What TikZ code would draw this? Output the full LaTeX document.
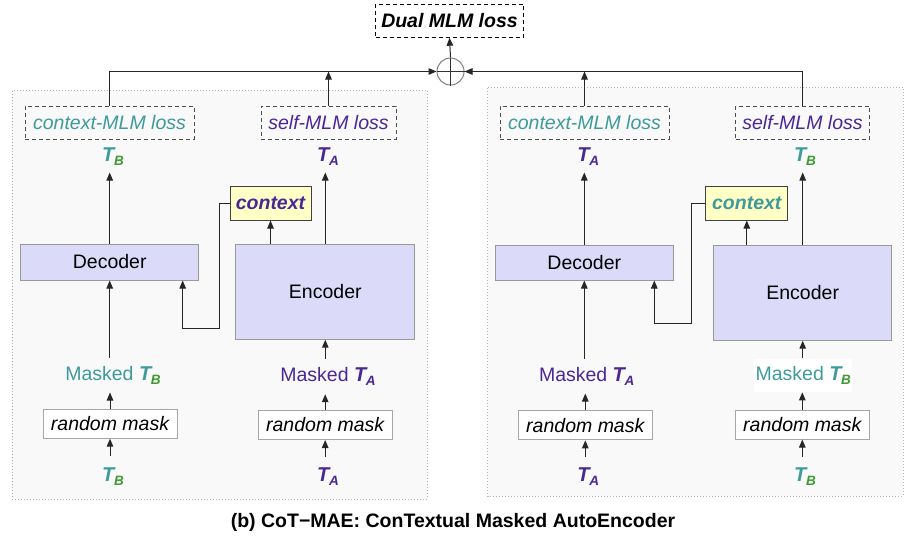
\documentclass[tikz,border=0pt]{standalone}
\usepackage{fontspec}
\setmainfont{Liberation Sans}
\usetikzlibrary{arrows.meta,calc,positioning}
\definecolor{tealc}{HTML}{3E9A9B}
\definecolor{purp}{HTML}{4B2796}
\definecolor{grn}{HTML}{3C9A2E}
\definecolor{lavender}{HTML}{DCDAF9}
\definecolor{ctxyellow}{HTML}{FFFFC6}
\definecolor{panelgray}{HTML}{F9F9F9}
\newcommand{\tokA}{{\fontsize{20}{22}\selectfont\bfseries\itshape\textcolor{purp}{T\kern-0.3pt\raisebox{-4pt}{\fontsize{13.5}{14}\selectfont A}}}}
\newcommand{\tokB}{{\fontsize{20}{22}\selectfont\bfseries\itshape\textcolor{tealc}{T}\kern-0.3pt\raisebox{-4pt}{\fontsize{13.5}{14}\selectfont\textcolor{grn}{B}}}}
\begin{document}
\begin{tikzpicture}
[x=1pt,y=-1pt,line width=1pt,>={Triangle[length=8pt,width=6.5pt]},
every node/.style = {font=\fontsize{19.5}{23}\selectfont, inner sep=0pt},
panel/.style = {draw=gray!60, dotted, fill=panelgray},
lossbox/.style = {draw=black!70, dash pattern=on 4pt off 3pt, minimum height=33},
block/.style = {draw=gray!80, fill=lavender},
ctxbox/.style = {draw=black!75, fill=ctxyellow, minimum width=81, minimum height=34},
maskbox/.style = {draw=gray!70, fill=white, minimum width=134, minimum height=29},
tok/.style = {minimum height=30, minimum width=20},
masked/.style = {minimum height=34},
wire/.style = {draw=black!85},]
\useasboundingbox (0,0) rectangle (915,542);
% panels
\draw[panel] (12,90.7) rectangle (427,499);
\draw[panel] (487.7,87.7) rectangle (903.3,496);
% top
\node (dual) at (449.5,20.7)[draw, dash pattern=on 4pt off 3pt, minimum width=148, minimum height=33] {\bfseries\itshape Dual MLM loss};
\node (oplus) at (450.5,71.5)[circle, draw=gray, minimum size=27] {};
\draw[black!80] (oplus.north) -- (oplus.south);
\draw[black!80] (oplus.west) -- (oplus.east);
\draw[wire,->] (oplus.north) -- (dual.south);
% left branch
\node (lossL1) at (109.5,122.5)[lossbox,minimum width=169] {\itshape\textcolor{tealc}{context-MLM loss}};
\node (lossL2) at (328.5,122.5)[lossbox,minimum width=135] {\itshape\textcolor{purp}{self-MLM loss}};
\node (tL1) at (113,157)[tok] {\tokB};
\node (tL2) at (328,157)[tok] {\tokA};
\node (ctxL) at (270.5,203)[ctxbox] {\bfseries\itshape\textcolor{purp}{context}};
\node (decL) at (109.7,262)[block,minimum width=178,minimum height=36] {Decoder};
\node (encL) at (325.3,291.7)[block,minimum width=179,minimum height=95] {Encoder};
\node (mkL1) at (113,375)[masked] {\textcolor{tealc}{Masked} \tokB};
\node (mkL2) at (328,376.7)[masked] {\textcolor{purp}{Masked} \tokA};
\node (rmL1) at (110,423.7)[maskbox] {\itshape random mask};
\node (rmL2) at (325.2,425)[maskbox] {\itshape random mask};
\node (inL1) at (113,476.7)[tok,minimum height=40] {\tokB};
\node (inL2) at (328,477)[tok,minimum height=40] {\tokA};
\coordinate (cL1) at (219,328);
\coordinate (cL2) at (182.7,328);
\draw[wire,->] (decL.north) -- (decL.north |- tL1.south);
\draw[wire,->] (encL.north) -- (encL.north |- tL2.south);
\draw[wire,->] (encL.north -| ctxL.south) -- (ctxL.south);
\draw[wire,->] (ctxL.west) -| (cL1) -- (cL2) -- (cL2 |- decL.south);
\draw[wire,->] (decL.south |- mkL1.north) -- (decL.south);
\draw[wire,->] (encL.south |- mkL2.north) -- (encL.south);
\draw[wire,->] (rmL1.north) -- (rmL1.north |- mkL1.south);
\draw[wire,->] (rmL2.north) -- (rmL2.north |- mkL2.south);
\draw[wire,->] (rmL1.south |- inL1.north) -- (rmL1.south);
\draw[wire,->] (rmL2.south |- inL2.north) -- (rmL2.south);
\draw[wire,->] (lossL1.north) |- (oplus.west);
\draw[wire,->] (lossL2.north) -- (lossL2.north |- oplus.west);
% right branch
\node (lossR1) at (584.5,122.5)[lossbox,minimum width=169] {\itshape\textcolor{tealc}{context-MLM loss}};
\node (lossR2) at (802.5,122.5)[lossbox,minimum width=134] {\itshape\textcolor{purp}{self-MLM loss}};
\node (tR1) at (588.3,157)[tok] {\tokA};
\node (tR2) at (805,157)[tok] {\tokB};
\node (ctxR) at (746.8,203)[ctxbox,minimum width=82] {\bfseries\itshape\textcolor{tealc}{context}};
\node (decR) at (584.3,262.5)[block,minimum width=178,minimum height=35] {Decoder};
\node (encR) at (802.7,292.7)[block,minimum width=178,minimum height=95] {Encoder};
\node (mkR1) at (586.7,376)[masked] {\textcolor{purp}{Masked} \tokA};
\node (mkR2) at (803.3,375.3)[fill=white,minimum width=98,minimum height=33] {\textcolor{tealc}{Masked} \tokB};
\node (rmR1) at (585.3,425.3)[maskbox] {\itshape random mask};
\node (rmR2) at (802.3,424.5)[maskbox] {\itshape random mask};
\node (inR1) at (588.3,477)[tok,minimum height=40] {\tokA};
\node (inR2) at (805,477)[tok,minimum height=40] {\tokB};
\coordinate (cR1) at (691.7,323.7);
\coordinate (cR2) at (654.3,323.7);
\draw[wire,->] (decR.north) -- (decR.north |- tR1.south);
\draw[wire,->] (encR.north) -- (encR.north |- tR2.south);
\draw[wire,->] (encR.north -| ctxR.south) -- (ctxR.south);
\draw[wire,->] (ctxR.west) -| (cR1) -- (cR2) -- (cR2 |- decR.south);
\draw[wire,->] (decR.south |- mkR1.north) -- (decR.south);
\draw[wire,->] (encR.south |- mkR2.north) -- (encR.south);
\draw[wire,->] (rmR1.north) -- (rmR1.north |- mkR1.south);
\draw[wire,->] (rmR2.north) -- (rmR2.north |- mkR2.south);
\draw[wire,->] (rmR1.south |- inR1.north) -- (rmR1.south);
\draw[wire,->] (rmR2.south |- inR2.north) -- (rmR2.south);
\draw[wire,->] (lossR2.north) |- (oplus.east);
\draw[wire,->] (lossR1.north) -- (lossR1.north |- oplus.east);
% caption
\node (cap) at (453,522) {\fontsize{19.5}{23}\selectfont\bfseries (b) CoT−MAE: ConTextual Masked AutoEncoder};
\end{tikzpicture}
\end{document}
